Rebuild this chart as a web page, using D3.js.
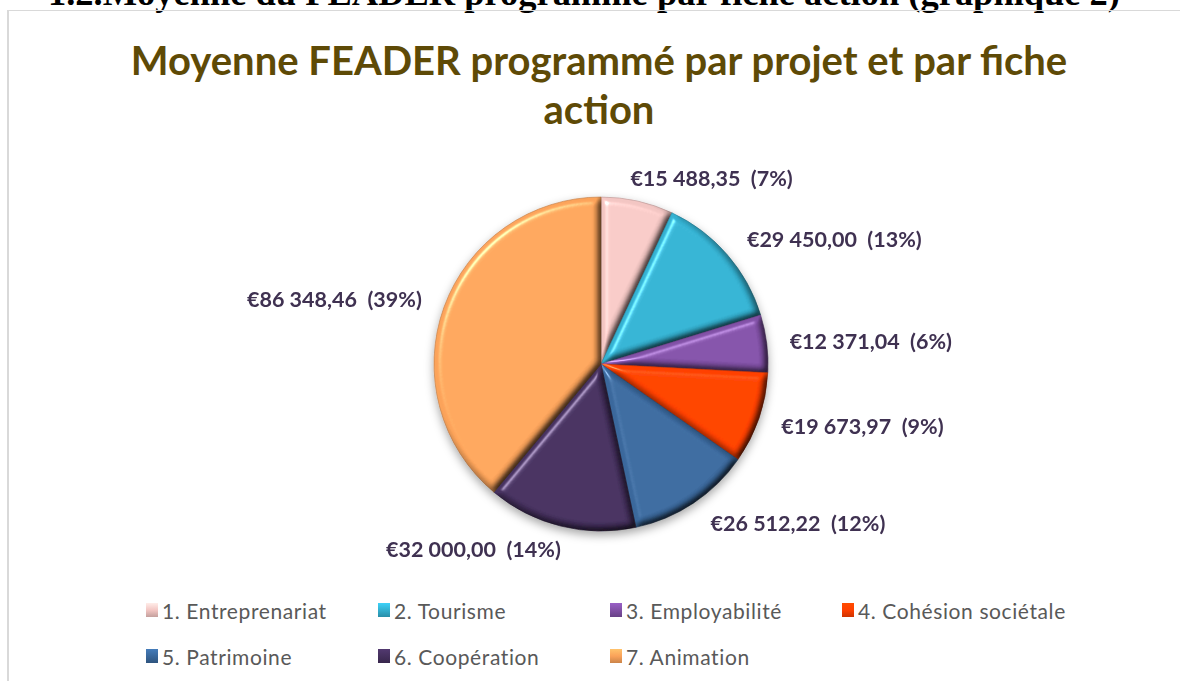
<!DOCTYPE html>
<html>
<head>
<meta charset="utf-8">
<script src="https://cdn.jsdelivr.net/npm/d3@7"></script>
<style>
  body { margin: 0; background: #fff; }
  svg { display: block; }
</style>
</head>
<body>
<svg id="chart"></svg>
<script>
// données du graphique
const headerText = "1.2.Moyenne du FEADER programmé par fiche action (graphique 2)";
const titleLines = ["Moyenne FEADER programmé par projet et par fiche", "action"];
const categories = ["1. Entreprenariat", "2. Tourisme", "3. Employabilité", "4. Cohésion sociétale",
                    "5. Patrimoine", "6. Coopération", "7. Animation"];
const values = [15488.35, 29450.00, 12371.04, 19673.97, 26512.22, 32000.00, 86348.46];
const sliceColors = ["#F3C6C3", "#33B0D0", "#8150A6", "#FF4000", "#3A689C", "#45305E", "#FBA35A"];

const W = 1180, H = 681;
const pieView = {cx: 601, cy: 364, r: 167, labelR: 180};

const svg = d3.select("#chart").attr("width", W).attr("height", H);
const defs = svg.append("defs");

// format monétaire français
const fr = d3.formatLocale({decimal: ",", thousands: " ", grouping: [3], currency: ["€", ""]});
const money = fr.format("$,.2f");
const total = d3.sum(values);

// filtre biseau (effet 3D des secteurs)
const bevel = defs.append("filter").attr("id", "bevel")
  .attr("color-interpolation-filters", "sRGB")
  .attr("x", "-10%").attr("y", "-10%").attr("width", "120%").attr("height", "120%");
bevel.append("feGaussianBlur").attr("in", "SourceAlpha").attr("stdDeviation", 3.5).attr("result", "blur");
bevel.append("feDiffuseLighting").attr("in", "blur").attr("surfaceScale", 4)
  .attr("diffuseConstant", 1.22).attr("lighting-color", "#fff").attr("result", "diff")
  .append("feDistantLight").attr("azimuth", 225).attr("elevation", 55);
bevel.append("feComposite").attr("in", "diff").attr("in2", "SourceGraphic")
  .attr("operator", "arithmetic").attr("k1", 1).attr("result", "lit");
bevel.append("feSpecularLighting").attr("in", "blur").attr("surfaceScale", 4)
  .attr("specularConstant", 0.5).attr("specularExponent", 60).attr("lighting-color", "#fff").attr("result", "spec")
  .append("feDistantLight").attr("azimuth", 225).attr("elevation", 55);
bevel.append("feComposite").attr("in", "spec").attr("in2", "SourceAlpha").attr("operator", "in").attr("result", "specIn");
bevel.append("feComposite").attr("in", "lit").attr("in2", "specIn")
  .attr("operator", "arithmetic").attr("k2", 1).attr("k3", 0.8);

// ombre portée
const shadow = defs.append("filter").attr("id", "shadow")
  .attr("x", "-20%").attr("y", "-20%").attr("width", "140%").attr("height", "140%");
shadow.append("feDropShadow").attr("dx", 0).attr("dy", 4).attr("stdDeviation", 5)
  .attr("flood-color", "#000").attr("flood-opacity", 0.35);

// titre du document (coupé en haut)
svg.append("text")
  .attr("x", 48).attr("y", 5)
  .attr("textLength", 1072).attr("lengthAdjust", "spacingAndGlyphs")
  .style("font-family", "'Liberation Serif', 'Times New Roman', serif")
  .style("font-weight", "bold").style("font-size", "36px").attr("fill", "#000")
  .text(headerText);

// cadre du graphique
svg.append("line").attr("x1", 8).attr("x2", 8).attr("y1", 10).attr("y2", H)
  .attr("stroke", "#d9d9d9").attr("stroke-width", 2);
svg.append("line").attr("x1", 7).attr("x2", W).attr("y1", 10.5).attr("y2", 10.5)
  .attr("stroke", "#d9d9d9").attr("stroke-width", 1);

// titre du graphique
svg.append("g").selectAll("text")
  .data(titleLines).enter().append("text")
  .attr("x", 599).attr("y", (d, i) => 75 + i * 49)
  .attr("text-anchor", "middle")
  .style("font-family", "Lato, 'Open Sans', sans-serif")
  .style("font-weight", "bold").style("font-size", "40px")
  .attr("fill", "#5E4A06")
  .text(d => d);

// secteurs
const pie = d3.pie().sort(null).value(d => d)(values);
const arc = d3.arc().innerRadius(0).outerRadius(pieView.r);
const labelArc = d3.arc().innerRadius(pieView.labelR).outerRadius(pieView.labelR);

const pieGroup = svg.append("g")
  .attr("transform", `translate(${pieView.cx},${pieView.cy})`)
  .attr("filter", "url(#shadow)");

pieGroup.selectAll("path.slice")
  .data(pie).enter().append("path")
  .attr("class", "slice")
  .attr("d", arc)
  .attr("fill", (d, i) => sliceColors[i])
  .attr("stroke", (d, i) => d3.color(sliceColors[i]).darker(0.8))
  .attr("stroke-width", 0.6)
  .attr("filter", "url(#bevel)");

// étiquettes de données
const labels = svg.append("g")
  .attr("transform", `translate(${pieView.cx},${pieView.cy})`)
  .selectAll("text")
  .data(pie).enter().append("text")
  .style("font-family", "Lato, 'Open Sans', sans-serif")
  .style("font-weight", "bold").style("font-size", "21.5px")
  .style("white-space", "pre")
  .attr("fill", "#3F3151")
  .attr("text-anchor", "middle")
  .attr("dominant-baseline", "central")
  .text(d => `${money(d.value)}  (${Math.round(d.value / total * 100)}%)`);

labels.each(function(d) {
  const w = this.getComputedTextLength();
  const mid = (d.startAngle + d.endAngle) / 2;
  const [px, py] = labelArc.centroid(d);
  const f = Math.max(-1, Math.min(1, Math.sin(mid) * 3.6));
  d3.select(this)
    .attr("x", px + f * (w / 2 + 10))
    .attr("y", py - Math.cos(mid) * 11);
});

// légende
const legendCols = 4, colStep = 232, rowStep = 46;
const legend = svg.append("g").attr("transform", "translate(146,610)")
  .selectAll("g").data(categories).enter().append("g")
  .attr("transform", (d, i) => `translate(${(i % legendCols) * colStep},${Math.floor(i / legendCols) * rowStep})`);

categories.forEach((c, i) => {
  const g = defs.append("linearGradient").attr("id", "lg" + i)
    .attr("x1", 0).attr("y1", 0).attr("x2", 0).attr("y2", 1);
  g.append("stop").attr("offset", "0%").attr("stop-color", d3.color(sliceColors[i]).brighter(0.5));
  g.append("stop").attr("offset", "50%").attr("stop-color", sliceColors[i]);
  g.append("stop").attr("offset", "100%").attr("stop-color", d3.color(sliceColors[i]).darker(0.6));
});

legend.append("rect")
  .attr("x", 0).attr("y", -7).attr("width", 12).attr("height", 14)
  .attr("fill", (d, i) => `url(#lg${i})`);

legend.append("text")
  .attr("x", 16).attr("y", 0)
  .attr("dominant-baseline", "central")
  .style("font-family", "Lato, 'Open Sans', sans-serif")
  .style("font-size", "21px")
  .style("letter-spacing", "0.6px")
  .attr("fill", "#595959")
  .text(d => d);
</script>
</body>
</html>
